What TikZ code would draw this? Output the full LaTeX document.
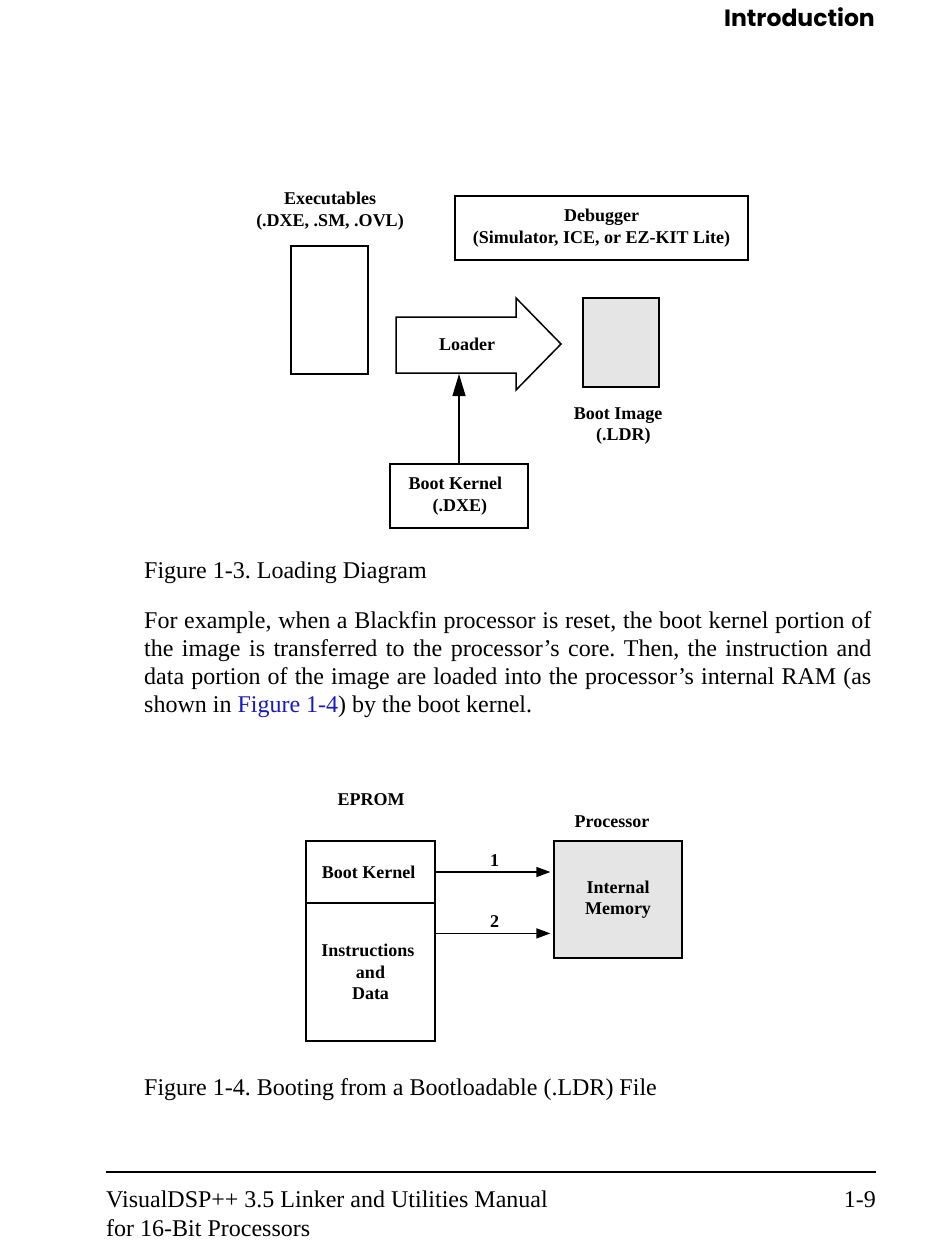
\documentclass[tikz,border=0pt]{standalone}
\usepackage{fontspec}
\setmainfont{Liberation Serif}
\newfontfamily\headfont{Poppins}
\usetikzlibrary{arrows.meta,positioning}
\definecolor{bootgray}{gray}{0.9}
\definecolor{linkblue}{RGB}{25,25,195}
\frenchspacing

\tikzset{
		lbl/.style      = {align=center, inner sep=0pt,
				font=\fontsize{18}{21.5}\selectfont\bfseries},
		thinbox/.style  = {shape=rectangle, draw, line width=1.2pt, lbl},
		thickbox/.style = {shape=rectangle, draw, line width=2.2pt, lbl},
		membox/.style   = {thinbox, fill=bootgray},
		body/.style     = {inner sep=0pt, anchor=base west,
				font=\fontsize{24}{28}\selectfont},
		flow/.style     = {line width=1.3pt, -{Triangle[length=14pt,width=10pt]}, shorten >=3pt}
	}

\begin{document}
\begin{tikzpicture}
		[x=1pt, y=-1pt]
		\useasboundingbox (0,0) rectangle (950,1246);
		% page header
		\node [inner sep=0pt, anchor=base east, font=\headfont\fontsize{23.5}{26}\selectfont\bfseries] (head) at (875,27) {Introduction};

		% Figure 1-3
		\node [lbl] (exelbl) at (330,211) {Executables\\(.DXE, .SM, .OVL)};
		\node [thinbox, minimum width=77pt, minimum height=128pt] (exe) at (329.5,310) {};
		\node [thickbox, minimum width=293pt, minimum height=64pt] (dbg) at (601.5,228) {Debugger\\(Simulator, ICE, or EZ-KIT Lite)};
		\draw [line width=1.5pt, line join=miter] (396,317) -- (516,317) -- (516,298) -- (561,344)
			-- (516,390) -- (516,373) -- (396,373) -- cycle;
		\node [lbl] (loader) at (467,344) {Loader};
		\coordinate (loaderbase) at (459,374);
		\node [membox, minimum width=76pt, minimum height=89pt] (bootimg) at (621,342.5) {};
		\node [lbl] (imglbl) at (618,426) {Boot Image\\\hspace*{0.6em}(.LDR)};
		\node [thickbox, minimum width=138pt, minimum height=64pt] (bootk) at (459,496) {\hspace*{-0.4em}Boot Kernel\\\hspace*{0.1em}(.DXE)};
		\draw [line width=1.2pt, -{Triangle[length=22pt,width=13pt]}] (bootk.north) -- (loaderbase);

		\node [body] (cap1) at (144,578) {Figure 1-3. Loading Diagram};

		% text
		\node [body] (para1) at (144,628) {\hbox to 727pt{For example, when a Blackfin processor is reset, the boot kernel portion of}};
		\node [body] (para2) at (144,656) {\hbox to 727pt{the image is transferred to the processor’s core. Then, the instruction and}};
		\node [body] (para3) at (144,684) {\hbox to 727pt{data portion of the image are loaded into the processor’s internal RAM (as}};
		\node [body] (para4) at (144,712) {shown in \textcolor{linkblue}{Figure 1-4}) by the boot kernel.};

		% Figure 1-4
		\node [lbl] (epromlbl) at (371,800) {EPROM};
		\node [lbl] (proclbl) at (612,822) {Processor};
		\node [thinbox, minimum width=129pt, minimum height=62pt] (kern) at (370.5,872) {\hspace*{-0.2em}Boot Kernel};
		\node [thinbox, minimum width=129pt, minimum height=138pt] (instr) at (370.5,972) {\hspace*{-0.3em}Instructions\\and\\Data};
		\node [membox, minimum width=128pt, minimum height=117pt] (mem) at (618,899.5) {Internal\\Memory};
		\draw [flow] (kern.east) -- (kern.east -| mem.west) node [lbl, midway, above=5pt] (one) {1};
		\draw [flow] ([yshift=-31pt]instr.north east) -- ([yshift=-31pt]instr.north east -| mem.west)
			node [lbl, midway, above=5pt] (two) {2};

		\node [body] (cap2) at (144,1095) {Figure 1-4. Booting from a Bootloadable (.LDR) File};

		% page footer
		\coordinate (rulel) at (106,1172);
		\coordinate (ruler) at (876,1172);
		\draw [line width=1.3pt] (rulel) -- (ruler);
		\node [body] (foot1) at (106,1207) {VisualDSP++ 3.5 Linker and Utilities Manual};
		\node [body] (foot2) at (106,1236) {for 16-Bit Processors};
		\node [body, anchor=base east] (pageno) at (876,1207) {1-9};
	\end{tikzpicture}
\end{document}
